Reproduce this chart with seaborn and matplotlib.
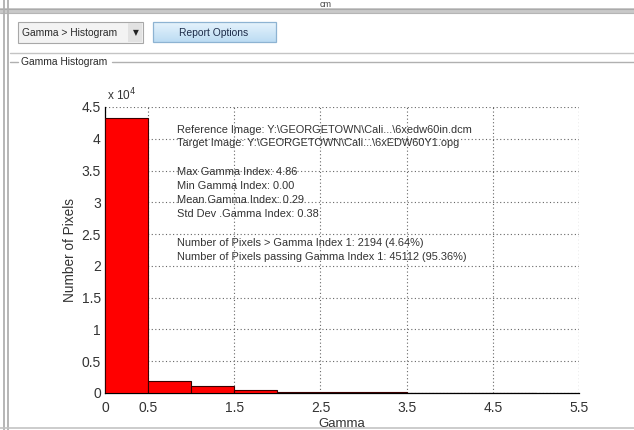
import numpy as np
import pandas as pd
import matplotlib
matplotlib.use("Agg")
import matplotlib.pyplot as plt
from matplotlib.patches import Rectangle
from matplotlib.colors import LinearSegmentedColormap
import seaborn as sns

# ---------------- data ----------------
bin_edges = [0.0, 0.5, 1.0, 1.5, 2.0, 2.5, 3.0, 3.5, 4.0, 4.5, 5.0]
bin_counts = [43200, 1912, 1150, 420, 230, 180, 90, 60, 40, 24]
x_ticks = [0, 0.5, 1.5, 2.5, 3.5, 4.5, 5.5]
x_tick_labels = ["0", "0.5", "1.5", "2.5", "3.5", "4.5", "5.5"]
y_ticks = [0, 5000, 10000, 15000, 20000, 25000, 30000, 35000, 40000, 45000]
y_tick_labels = ["0", "0.5", "1", "1.5", "2", "2.5", "3", "3.5", "4", "4.5"]
info_lines = [
    "Reference Image: Y:\\GEORGETOWN\\Cali...\\6xedw60in.dcm",
    "Target Image: Y:\\GEORGETOWN\\Cali...\\6xEDW60Y1.opg",
    "Max Gamma Index: 4.86",
    "Min Gamma Index: 0.00",
    "Mean Gamma Index: 0.29",
    "Std Dev .Gamma Index: 0.38",
    "Number of Pixels > Gamma Index 1: 2194 (4.64%)",
    "Number of Pixels passing Gamma Index 1: 45112 (95.36%)",
]

sns.set_theme(style="white")
plt.rcParams["font.family"] = ["Liberation Sans", "DejaVu Sans"]

W, H = 634, 430
fig = plt.figure(figsize=(W / 100, H / 100), dpi=100)
fig.patch.set_facecolor("white")

# ---------------- GUI background (pixel coordinates) ----------------
bg = fig.add_axes([0, 0, 1, 1])
bg.set_xlim(0, W)
bg.set_ylim(H, 0)
bg.axis("off")
bg.set_zorder(0)

txt_col = "#2a2a2a"
bg.text(326, 0.3, "cm", ha="center", va="top", fontsize=6.5, color="#444444")
bg.add_patch(Rectangle((0, 8), W, 5, facecolor="#c9c9c9", edgecolor="none"))
bg.plot([0, W], [8.5, 8.5], color="#aaaaaa", lw=0.8)
bg.plot([0, W], [12.5, 12.5], color="#b5b5b5", lw=0.8)
for xv in (3.5, 7.5):
    bg.plot([xv, xv], [0, H], color="#b0b0b0", lw=1.3)
bg.plot([10, W], [53, 53], color="#c4c4c4", lw=1.0)
bg.plot([10, 18], [62, 62], color="#b0b0b0", lw=1.0)
bg.plot([112, W], [62, 62], color="#b0b0b0", lw=1.0)
bg.text(21, 62, "Gamma Histogram", ha="left", va="center", fontsize=7.4, color=txt_col)
bg.plot([0, W], [428, 428], color="#c4c4c4", lw=1.2)

# dropdown
bg.add_patch(Rectangle((18, 22), 125, 21, facecolor="#f3f3f3", edgecolor="#a8a8a8", lw=0.8))
bg.add_patch(Rectangle((128, 23), 14, 19, facecolor="#e2e2e2", edgecolor="none"))
bg.text(22, 33, "Gamma > Histogram", ha="left", va="center", fontsize=7.4, color=txt_col)
bg.text(136, 33, "\u25bc", ha="center", va="center", fontsize=5.5, color="#222222",
        family=["DejaVu Sans"])
# button with gradient
grad = np.linspace(0, 1, 50).reshape(-1, 1)
cm_btn = LinearSegmentedColormap.from_list("btn", ["#e6f3fc", "#bcdcf3"])
bg.imshow(grad, extent=(153, 276, 42, 22), cmap=cm_btn, aspect="auto", zorder=1)
bg.add_patch(Rectangle((153, 22), 123, 20, facecolor="none", edgecolor="#8db3d2", lw=0.9, zorder=2))
bg.text(214, 32.5, "Report Options", ha="center", va="center", fontsize=7.4,
        color="#1e2d4a", zorder=3)
bg.set_xlim(0, W)
bg.set_ylim(H, 0)

# ---------------- histogram axes ----------------
left_px, right_px, top_px, bot_px = 105, 579, 107, 393
ax = fig.add_axes([left_px / W, 1 - bot_px / H, (right_px - left_px) / W, (bot_px - top_px) / H])
ax.set_zorder(2)
ax.patch.set_alpha(0)

centers = [(a + b) / 2 for a, b in zip(bin_edges[:-1], bin_edges[1:])]
df = pd.DataFrame({"gamma": centers, "count": bin_counts})
sns.histplot(data=df, x="gamma", weights="count", bins=bin_edges, ax=ax,
             color="#ff0000", alpha=1.0, edgecolor="#3a0000", linewidth=0.8, zorder=3)

ax.set_xlim(0, 5.5)
ax.set_ylim(0, 45000)
ax.set_xticks(x_ticks)
ax.set_xticklabels(x_tick_labels)
ax.set_yticks(y_ticks)
ax.set_yticklabels(y_tick_labels)
ax.tick_params(axis="both", direction="in", length=4, width=0.8, colors="black",
               labelsize=10, labelcolor="#333333")
ax.tick_params(axis="y", pad=3)
ax.tick_params(axis="x", pad=6)
ax.set_xlabel("Gamma", fontsize=9.5, color="#333333", labelpad=2)
ax.set_ylabel("Number of Pixels", fontsize=9.8, color="#333333", labelpad=3)

for sp in ("top", "right"):
    ax.spines[sp].set_visible(False)
for sp in ("left", "bottom"):
    ax.spines[sp].set_color("black")
    ax.spines[sp].set_linewidth(0.9)

ax.grid(True, axis="both", linestyle=(0, (1, 2.2)), linewidth=0.8, color="#666666", zorder=0)
ax.set_axisbelow(True)
ax.axvline(5.5, linestyle=(0, (1, 2.2)), linewidth=0.8, color="#666666", zorder=1)

ax.text(0.004, 1.012, "x 10$^{4}$", transform=ax.transAxes, ha="left", va="bottom",
        fontsize=8.5, color="#333333")

# info text block (pixel rows of each line)
line_rows = [130, 143.5, 172, 186, 200, 214, 243, 257]
for line, yy in zip(info_lines, line_rows):
    fig.text(177 / W, 1 - yy / H, line, ha="left", va="center", fontsize=7.9,
             color="#333333", zorder=5)

fig.savefig("out.png", dpi=100)
